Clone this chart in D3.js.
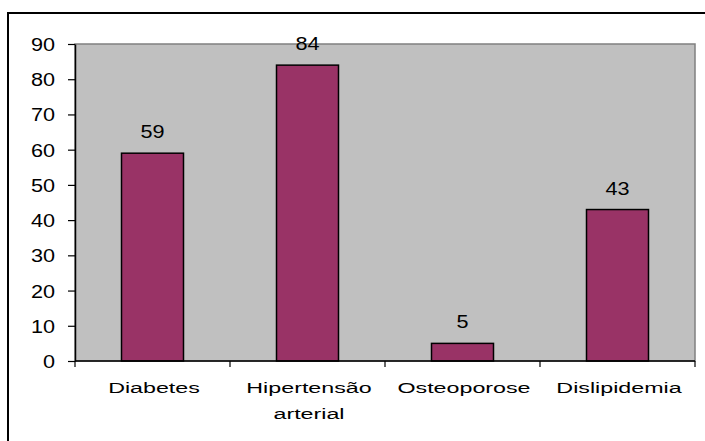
<!DOCTYPE html>
<html>
<head>
<meta charset="utf-8">
<script src="https://cdn.jsdelivr.net/npm/d3@7"></script>
<style>
  html, body { margin: 0; padding: 0; background: #fff; }
  svg { display: block; }
  text { font-family: "Liberation Sans", Arial, sans-serif; fill: #000; }
</style>
</head>
<body>
<svg id="chart" width="705" height="441"></svg>
<script>
// Chart data
const categories = ["Diabetes", "Hipertensão\narterial", "Osteoporose", "Dislipidemia"];
const values = [59, 84, 5, 43];
const yTicks = [0, 10, 20, 30, 40, 50, 60, 70, 80, 90];

const W = 705, H = 441;
const plot = { left: 75, top: 44, right: 695, bottom: 361 };
const numSize = 18.5, numStretch = 1.17;  // numbers: tick and value labels
const catSize = 15.5, catStretch = 1.5;   // category labels

const svg = d3.select("#chart");

// outer frame (runs past the right and bottom edges)
svg.append("rect")
  .attr("x", 8).attr("y", 13)
  .attr("width", W + 20).attr("height", H + 20)
  .attr("fill", "#fff").attr("stroke", "#000").attr("stroke-width", 2);

const x = d3.scaleBand()
  .domain(categories)
  .range([plot.left, plot.right])
  .paddingInner(0.6)
  .paddingOuter(0.3);

const y = d3.scaleLinear()
  .domain([0, 90])
  .range([plot.bottom, plot.top]);

// plot area
svg.append("rect")
  .attr("x", plot.left).attr("y", plot.top)
  .attr("width", plot.right - plot.left).attr("height", plot.bottom - plot.top)
  .attr("fill", "#C0C0C0").attr("stroke", "#808080").attr("stroke-width", 1.5);

// bars
svg.append("g").selectAll("rect")
  .data(values)
  .join("rect")
  .attr("x", (d, i) => x(categories[i]))
  .attr("y", d => y(d))
  .attr("width", x.bandwidth())
  .attr("height", d => y(0) - y(d))
  .attr("fill", "#993366")
  .attr("stroke", "#000")
  .attr("stroke-width", 1.5);

// value labels
svg.append("g").selectAll("text")
  .data(values)
  .join("text")
  .attr("text-anchor", "middle")
  .attr("font-size", numSize)
  .attr("transform", (d, i) =>
    `translate(${x(categories[i]) + x.bandwidth() / 2},${y(d) - 15}) scale(${numStretch},1)`)
  .text(d => d);

// y axis
const yAxis = svg.append("g")
  .attr("transform", `translate(${plot.left},0)`)
  .call(d3.axisLeft(y).tickValues(yTicks).tickSize(7).tickSizeOuter(0).tickFormat(d3.format("d")));
yAxis.select(".domain").attr("stroke", "#000").attr("stroke-width", 1.5);
yAxis.selectAll(".tick line").attr("stroke", "#000").attr("stroke-width", 1.2);
yAxis.selectAll(".tick text")
  .attr("x", null).attr("dy", null)
  .attr("font-size", numSize)
  .attr("transform", `translate(-20,6.5) scale(${numStretch},1)`);

// x axis: baseline with ticks at the category boundaries
const bounds = categories.map(c => x(c) - x.step() * x.paddingInner() / 2).concat([plot.right]);
bounds[0] = plot.left;
const xAxis = svg.append("g");
xAxis.append("line")
  .attr("x1", plot.left).attr("x2", plot.right)
  .attr("y1", y(0)).attr("y2", y(0))
  .attr("stroke", "#000").attr("stroke-width", 1.5);
xAxis.selectAll("line.tk")
  .data(bounds)
  .join("line")
  .attr("class", "tk")
  .attr("x1", d => d).attr("x2", d => d)
  .attr("y1", y(0)).attr("y2", y(0) + 6)
  .attr("stroke", "#000").attr("stroke-width", 1.2);

// category labels
const catLabels = xAxis.selectAll("text.cat")
  .data(categories)
  .join("text")
  .attr("class", "cat")
  .attr("text-anchor", "middle")
  .attr("font-size", catSize)
  .attr("transform", d => `translate(${x(d) + x.bandwidth() / 2 + 1.5},393) scale(${catStretch},1)`);
catLabels.selectAll("tspan")
  .data(d => d.split("\n"))
  .join("tspan")
  .attr("x", 0)
  .attr("dy", (d, i) => i === 0 ? 0 : 26)
  .text(d => d);
</script>
</body>
</html>
